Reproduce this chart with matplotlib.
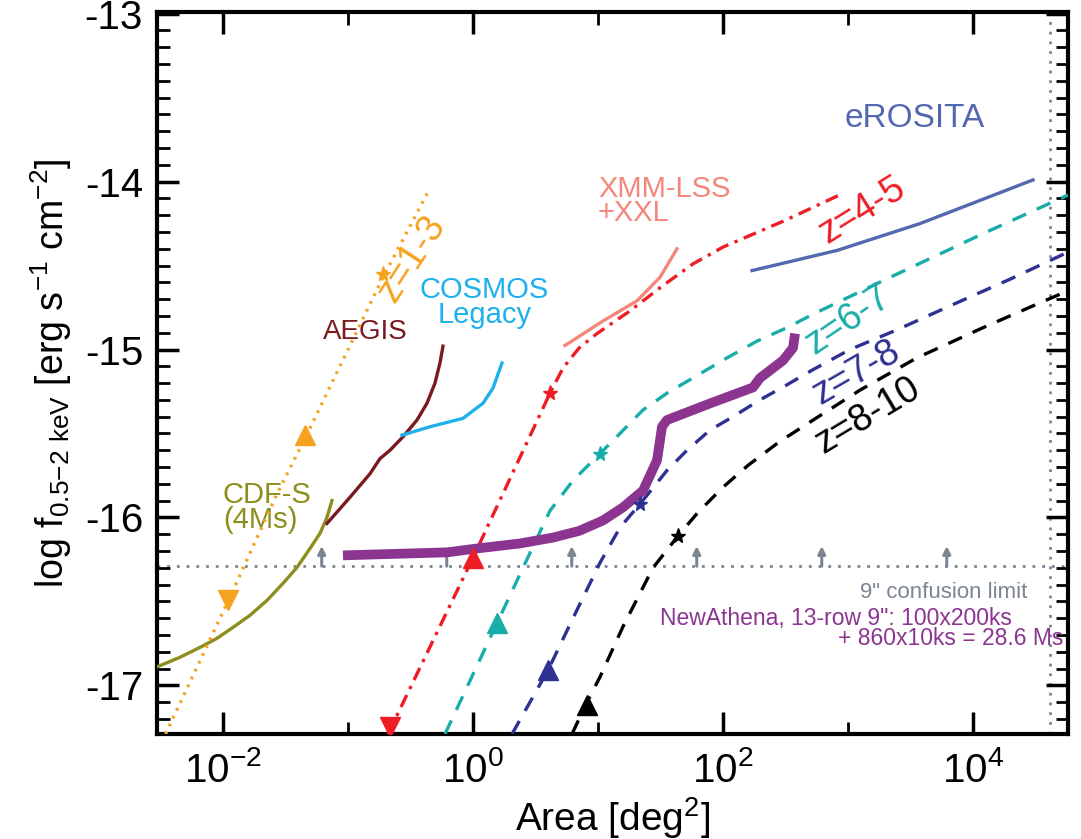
import numpy as np
import matplotlib
matplotlib.use("Agg")
import matplotlib.pyplot as plt
from matplotlib.ticker import FixedLocator, MultipleLocator, NullFormatter

plt.rcParams['font.family'] = ['Liberation Sans', 'DejaVu Sans']
plt.rcParams['mathtext.default'] = 'regular'

# ---- data (log10 area [deg^2], log10 flux) ----
z13_logA = [-2.46, -1.96, -1.568, -1.344, -0.72, -0.344]
z13_flux = [-17.29, -16.50, -15.86, -15.53, -14.57, -14.04]
z13_mark_logA = [-1.96, -1.344, -0.72]
z13_mark_flux = [-16.49, -15.51, -14.55]

z45_logA = [-0.68, 0.0, 0.616, 0.72, 0.85, 0.992, 1.256, 1.5, 1.76, 2.0, 2.5, 2.96]
z45_flux = [-17.29, -16.24, -15.26, -15.11, -14.99, -14.905, -14.77, -14.63, -14.49, -14.39, -14.23, -14.07]
z45_mark_logA = [-0.664, 0.0, 0.616]
z45_mark_flux = [-17.25, -16.24, -15.26]

z67_logA = [-0.224, 0.192, 0.40, 0.616, 0.8, 1.016, 1.176, 1.36, 1.552, 1.792, 2.032,
            2.272, 2.512, 2.72, 3.28, 4.08, 4.76]
z67_flux = [-17.29, -16.63, -16.30, -15.96, -15.78, -15.62, -15.50, -15.36, -15.26, -15.155,
            -15.05, -14.95, -14.87, -14.79, -14.59, -14.31, -14.08]
z67_mark_logA = [0.192, 1.016]
z67_mark_flux = [-16.63, -15.62]

z78_logA = [0.312, 0.60, 0.8, 1.016, 1.176, 1.336, 1.552, 1.712, 1.896, 2.08, 2.296, 2.512,
            2.72, 3.016, 3.4, 3.816, 4.3, 4.76]
z78_flux = [-17.29, -16.91, -16.60, -16.27, -16.06, -15.92, -15.72, -15.60, -15.48, -15.40,
            -15.30, -15.21, -15.12, -15.00, -14.88, -14.74, -14.58, -14.42]
z78_mark_logA = [0.60, 1.336]
z78_mark_flux = [-16.91, -15.92]

z810_logA = [0.792, 0.912, 1.016, 1.2, 1.44, 1.64, 1.8, 2.0, 2.2, 2.45, 2.7, 3.1, 3.55,
             4.08, 4.48, 4.76]
z810_flux = [-17.29, -17.10, -16.95, -16.65, -16.30, -16.11, -15.97, -15.82, -15.69, -15.55,
             -15.43, -15.24, -15.05, -14.87, -14.74, -14.65]
z810_mark_logA = [0.912, 1.64]
z810_mark_flux = [-17.12, -16.11]

athena_logA = [-1.04, -0.208, 0.032, 0.376, 0.64, 0.85, 1.04, 1.2, 1.36, 1.472, 1.512,
               1.552, 1.9, 2.24, 2.296, 2.48, 2.56, 2.576]
athena_flux = [-16.226, -16.208, -16.185, -16.155, -16.12, -16.08, -16.018, -15.94, -15.84,
               -15.66, -15.46, -15.42, -15.32, -15.226, -15.17, -15.065, -14.99, -14.905]

aegis_logA = [-1.168, -0.984, -0.824, -0.744, -0.664, -0.56, -0.448, -0.368, -0.304, -0.264, -0.24]
aegis_flux = [-16.036, -15.88, -15.74, -15.65, -15.60, -15.52, -15.42, -15.32, -15.20, -15.08, -14.98]

cosmos_logA = [-0.568, -0.344, -0.08, 0.08, 0.16, 0.232]
cosmos_flux = [-15.51, -15.46, -15.41, -15.32, -15.23, -15.08]

cdfs_logA = [-2.528, -2.344, -2.184, -2.048, -1.92, -1.784, -1.648, -1.52, -1.408, -1.304,
             -1.224, -1.168, -1.128]
cdfs_flux = [-16.89, -16.833, -16.774, -16.72, -16.655, -16.583, -16.494, -16.393, -16.298,
             -16.185, -16.095, -16.0, -15.90]

xmm_logA = [0.736, 1.04, 1.312, 1.496, 1.632]
xmm_flux = [-14.976, -14.83, -14.71, -14.57, -14.40]

erosita_logA = [2.232, 2.912, 3.576, 4.48]
erosita_flux = [-14.53, -14.41, -14.25, -13.99]

confusion_flux = -16.29
arrow_logA = [-1.21, -0.21, 0.79, 1.79, 2.79, 3.79]
allsky_area = 41253.0

# colours
c_orange = '#F5A21F'
c_red = '#EE1C25'
c_teal = '#19ADA9'
c_navy = '#2E3192'
c_purple = '#8B3590'
c_aegis = '#7A1A1F'
c_cosmos = '#1EB1EC'
c_cdfs = '#8E8E1E'
c_xmm = '#F4877A'
c_eros = '#5468B0'
c_gray = '#7C8592'


def A(logs):
    return 10 ** np.array(logs)


fig = plt.figure(figsize=(10.81, 8.39), dpi=100)
ax = fig.add_axes([0.1452, 0.1251, 0.988 - 0.1452, 0.9857 - 0.1251])
ax.set_xscale('log')

# confusion limit and all-sky line
ax.axhline(confusion_flux, color=c_gray, lw=2, ls=(0, (1, 2.5)), zorder=1)
ax.axvline(allsky_area, color=c_gray, lw=2, ls=(0, (1, 2.5)), zorder=1)
for la in arrow_logA:
    ax.annotate('', xy=(10 ** la, confusion_flux + 0.12), xytext=(10 ** la, confusion_flux),
                arrowprops=dict(arrowstyle='-|>', color=c_gray, lw=2.2, mutation_scale=11,
                                shrinkA=0, shrinkB=0), zorder=2)

# survey curves
ax.plot(A(cdfs_logA), cdfs_flux, color=c_cdfs, lw=2.4, zorder=3)
ax.plot(A(aegis_logA), aegis_flux, color=c_aegis, lw=2.4, zorder=3)
ax.plot(A(cosmos_logA), cosmos_flux, color=c_cosmos, lw=2.4, zorder=3)
ax.plot(A(xmm_logA), xmm_flux, color=c_xmm, lw=2.4, zorder=3)
ax.plot(A(erosita_logA), erosita_flux, color=c_eros, lw=2.4, zorder=3)

# redshift tracks
ax.plot(A(z13_logA), z13_flux, color=c_orange, lw=2.4, ls=(0, (0.8, 1.8)), zorder=4)
ax.plot(A(z45_logA), z45_flux, color=c_red, lw=2.4, ls=(0, (4, 2, 1, 2)), zorder=4)
ax.plot(A(z67_logA), z67_flux, color=c_teal, lw=2.4, ls=(0, (4.5, 3.5)), zorder=4)
ax.plot(A(z78_logA), z78_flux, color=c_navy, lw=2.4, ls=(0, (4.5, 3.5)), zorder=4)
ax.plot(A(z810_logA), z810_flux, color='black', lw=2.4, ls=(0, (4.5, 3.5)), zorder=4)

# NewAthena
ax.plot(A(athena_logA), athena_flux, color=c_purple, lw=7, solid_capstyle='butt',
        solid_joinstyle='round', zorder=5)


# markers
def marks(logs, flux, color, kinds):
    for la, f, k in zip(logs, flux, kinds):
        ms = 14 if k in ('^', 'v') else 11
        ax.plot(10 ** la, f, marker=k, color=color, ms=ms, mec=color, ls='none', zorder=6)


marks(z13_mark_logA, z13_mark_flux, c_orange, ['v', '^', '*'])
marks(z45_mark_logA, z45_mark_flux, c_red, ['v', '^', '*'])
marks(z67_mark_logA, z67_mark_flux, c_teal, ['^', '*'])
marks(z78_mark_logA, z78_mark_flux, c_navy, ['^', '*'])
marks(z810_mark_logA, z810_mark_flux, 'black', ['^', '*'])

# labels
fs = 21
ax.text(10 ** -0.864, -14.893, 'AEGIS', color=c_aegis, fontsize=20, ha='center', va='center')
ax.text(10 ** 0.09, -14.72, 'COSMOS\nLegacy', color=c_cosmos, fontsize=fs, ha='center',
        va='center', linespacing=0.85)
ax.text(10 ** 1.0, -14.115, 'XMM-LSS\n+XXL', color=c_xmm, fontsize=fs, ha='left', va='center',
        linespacing=0.85)
ax.text(10 ** 3.536, -13.625, 'eROSITA', color=c_eros, fontsize=24, ha='center', va='center')
ax.text(10 ** -2.0, -15.94, 'CDF-S\n(4Ms)', color=c_cdfs, fontsize=fs, ha='left', va='center',
        linespacing=0.85)

zfs = 27
ax.text(10 ** -0.488, -14.458, 'z=1-3', color=c_orange, fontsize=zfs, rotation=57,
        ha='center', va='center', rotation_mode='anchor')
ax.text(10 ** 3.112, -14.173, 'z=4-5', color=c_red, fontsize=zfs, rotation=32,
        ha='center', va='center', rotation_mode='anchor')
ax.text(10 ** 3.0, -14.827, 'z=6-7', color=c_teal, fontsize=zfs, rotation=34,
        ha='center', va='center', rotation_mode='anchor')
ax.text(10 ** 3.072, -15.137, 'z=7-8', color=c_navy, fontsize=zfs, rotation=30,
        ha='center', va='center', rotation_mode='anchor')
ax.text(10 ** 3.16, -15.393, 'z=8-10', color='black', fontsize=zfs, rotation=31,
        ha='center', va='center', rotation_mode='anchor')

ax.text(10 ** 4.432, -16.446, '9" confusion limit', color=c_gray, fontsize=16, ha='right', va='center')
ax.text(10 ** 4.312, -16.60, 'NewAthena, 13-row 9": 100x200ks', color=c_purple, fontsize=16.5,
        ha='right', va='center')
ax.text(10 ** 4.72, -16.72, '+ 860x10ks = 28.6 Ms', color=c_purple, fontsize=16.5,
        ha='right', va='center')

# axes
ax.set_xlim(10 ** -2.528, 10 ** 4.76)
ax.set_ylim(-17.29, -12.99)
ax.xaxis.set_major_locator(FixedLocator([1e-2, 1e0, 1e2, 1e4]))
ax.xaxis.set_minor_locator(FixedLocator([1e-1, 1e1, 1e3]))
ax.xaxis.set_minor_formatter(NullFormatter())
ax.set_xticklabels([r'$10^{-2}$', r'$10^{0}$', r'$10^{2}$', r'$10^{4}$'])
ax.yaxis.set_major_locator(FixedLocator([-17, -16, -15, -14, -13]))
ax.yaxis.set_minor_locator(MultipleLocator(0.1))
ax.set_yticklabels(['-17', '-16', '-15', '-14', '-13'])

ax.tick_params(which='both', direction='in', top=True, right=True, labelsize=29)
ax.tick_params(axis='x', which='major', pad=12)
ax.tick_params(axis='y', which='major', pad=10)
ax.tick_params(which='major', length=16, width=2.5)
ax.tick_params(which='minor', length=9, width=2)
for s in ax.spines.values():
    s.set_linewidth(3)

ax.set_xlabel(r'Area [deg$^2$]', fontsize=28, labelpad=4)
ax.set_ylabel(r'log f$_{0.5{-}2\ keV}$ [erg s$^{-1}$ cm$^{-2}$]', fontsize=27, labelpad=8)

fig.savefig('out.png', dpi=100)
